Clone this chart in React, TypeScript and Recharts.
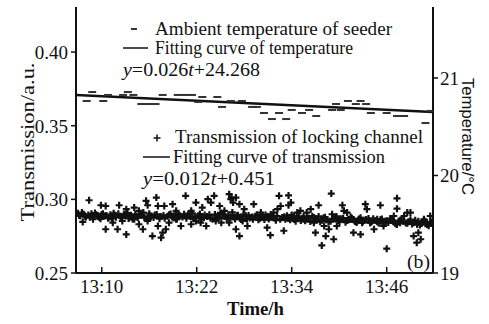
import React from 'react';
import { ComposedChart, Scatter, Line, XAxis, YAxis, Customized } from 'recharts';

// ---- data ----
const timeTicks = [10, 22, 34, 46]; // minutes after 13:00
const transTicks = [0.25, 0.3, 0.35, 0.4];
const tempTicks = [19, 20, 21];

const tempPoints: [number, number][] = [
  [8.1, 20.764], [8.8, 20.856], [10.2, 20.764], [10.8, 20.826], [12.7, 20.826], [13.3, 20.856],
  [14.0, 20.826], [15.0, 20.733], [15.9, 20.733], [16.8, 20.733], [17.7, 20.826], [19.6, 20.826],
  [20.5, 20.826], [21.4, 20.826], [22.2, 20.754], [22.7, 20.805], [24.6, 20.805], [25.2, 20.703],
  [26.3, 20.764], [27.7, 20.764], [29.0, 20.703], [29.6, 20.703], [30.5, 20.641], [31.5, 20.579],
  [32.4, 20.641], [33.3, 20.579], [34.0, 20.672], [35.3, 20.641], [36.2, 20.672], [37.1, 20.61],
  [39.1, 20.672], [39.6, 20.733], [40.2, 20.672], [41.1, 20.764], [42.1, 20.733], [42.7, 20.764],
  [43.4, 20.733], [44.0, 20.641], [46.0, 20.641], [47.3, 20.61], [48.2, 20.61], [50.9, 20.538],
  [51.6, 20.662],
];
const tempFit: [number, number][] = [[6.75, 20.826], [51.85, 20.65]];

const transOutliers: [number, number][] = [
  [8.4, 0.2994], [7.6, 0.2847], [8.9, 0.2865], [9.9, 0.296], [10.5, 0.2955], [10.5, 0.2797],
  [11.4, 0.2842], [12.2, 0.296], [13.1, 0.2933], [12.0, 0.2797], [13.1, 0.2762], [12.6, 0.2853],
  [14.1, 0.2944], [14.7, 0.2922], [15.6, 0.299], [15.8, 0.296], [14.1, 0.2865], [14.7, 0.2831],
  [15.2, 0.2797], [15.8, 0.2853], [16.4, 0.2751], [17.1, 0.2819], [17.5, 0.274], [17.7, 0.2774],
  [18.1, 0.2797], [16.9, 0.3012], [17.1, 0.2955], [17.9, 0.2955], [18.95, 0.2967], [19.4, 0.2922],
  [18.5, 0.2842], [19.4, 0.2865], [20.0, 0.2819], [20.6, 0.3024], [21.3, 0.2922], [21.9, 0.2978],
  [22.7, 0.2944], [23.4, 0.3001], [20.6, 0.2887], [21.3, 0.2831], [21.9, 0.2853], [22.5, 0.2842],
  [23.2, 0.2819], [23.8, 0.2978], [24.2, 0.3024], [24.9, 0.2955], [25.5, 0.2922], [26.1, 0.3035],
  [26.4, 0.3012], [26.3, 0.3001], [26.6, 0.2978], [26.95, 0.3012], [27.4, 0.2967], [28.0, 0.2933],
  [24.4, 0.2853], [25.1, 0.2842], [26.1, 0.2842], [26.95, 0.2797], [27.4, 0.2751], [27.8, 0.2853],
  [28.4, 0.2819], [29.1, 0.2865],
  [29.2, 0.2967], [30.1, 0.291], [30.9, 0.2808], [31.3, 0.2757], [31.7, 0.291], [32.4, 0.3024],
  [32.2, 0.2933], [32.6, 0.2955], [33.0, 0.2787], [33.2, 0.2865], [33.6, 0.3027], [33.9, 0.2978],
  [33.6, 0.296], [34.3, 0.2887], [34.7, 0.291], [35.1, 0.2922], [35.5, 0.2865], [35.9, 0.291],
  [36.4, 0.2933], [36.8, 0.2842], [37.0, 0.2774], [37.4, 0.296], [37.8, 0.2687], [38.1, 0.2819],
  [38.3, 0.2751], [38.7, 0.2797], [39.0, 0.3039], [39.1, 0.2899], [39.3, 0.2729], [39.7, 0.2819],
  [40.4, 0.296], [40.6, 0.2922], [41.0, 0.291], [41.4, 0.2865], [41.8, 0.2774], [42.3, 0.2853],
  [42.7, 0.2762], [43.3, 0.2967], [43.5, 0.2933], [43.9, 0.2842], [44.4, 0.2797], [44.8, 0.2865],
  [45.2, 0.296], [45.6, 0.2819], [46.0, 0.2665], [46.5, 0.2865], [46.9, 0.2887], [47.3, 0.3007],
  [47.3, 0.2937], [47.7, 0.2842], [48.2, 0.2887], [48.6, 0.291], [49.0, 0.291], [49.4, 0.2751],
  [49.8, 0.2706], [50.0, 0.2774], [50.3, 0.2729], [50.7, 0.2865], [51.1, 0.2842], [51.5, 0.2887],
  [51.8, 0.2853],
];

const transCore: [number, number][] = [
  [7.0, 0.2905], [7.3, 0.2888], [7.7, 0.2899], [8.0, 0.288], [8.3, 0.2893], [8.7, 0.2902],
  [9.0, 0.2884], [9.3, 0.2895], [9.7, 0.2876], [10.0, 0.2898], [10.3, 0.2886], [10.8, 0.2872],
  [11.1, 0.2896], [11.5, 0.2905], [11.8, 0.2879], [12.4, 0.2883], [12.8, 0.2899], [13.4, 0.287],
  [13.7, 0.2892], [14.4, 0.2886], [15.0, 0.2897], [15.4, 0.2875], [16.0, 0.2903], [16.2, 0.288],
  [16.7, 0.2894], [17.3, 0.2869], [17.8, 0.2891], [18.3, 0.2885], [18.7, 0.29], [19.1, 0.2874],
  [19.7, 0.2893], [20.2, 0.2881], [20.9, 0.2896], [21.6, 0.2868], [22.2, 0.2889], [22.9, 0.2877],
  [23.6, 0.2895], [24.0, 0.2865], [24.6, 0.2884], [25.3, 0.2899], [25.8, 0.287], [26.7, 0.2881],
  [27.2, 0.2892], [27.6, 0.2864], [28.2, 0.2888], [28.7, 0.2873], [29.4, 0.2885], [29.8, 0.2861],
  [30.4, 0.2879], [30.7, 0.2893], [31.1, 0.2866], [31.5, 0.2884], [32.0, 0.2858], [32.8, 0.2876],
  [33.4, 0.2889], [33.8, 0.2862], [34.1, 0.2871], [34.5, 0.2852], [34.9, 0.288], [35.3, 0.2869],
  [35.7, 0.2855], [36.1, 0.2874], [36.6, 0.2886], [37.2, 0.286], [37.6, 0.2848], [38.0, 0.2873],
  [38.5, 0.2864], [38.9, 0.2851], [39.5, 0.2876], [39.9, 0.2857], [40.2, 0.2869], [40.8, 0.2845],
  [41.2, 0.2861], [41.6, 0.2872], [42.0, 0.285], [42.5, 0.2866], [42.9, 0.2841], [43.1, 0.2858],
  [43.7, 0.287], [44.1, 0.2849], [44.6, 0.2856], [45.0, 0.2838], [45.4, 0.2866], [45.8, 0.2851],
  [46.2, 0.2843], [46.7, 0.286], [47.1, 0.2835], [47.5, 0.2852], [47.9, 0.2865], [48.4, 0.284],
  [48.8, 0.2848], [49.2, 0.2833], [49.6, 0.2858], [50.2, 0.2826], [50.5, 0.2844], [50.9, 0.2835],
  [51.3, 0.282], [51.7, 0.2841],
];

const transCoreExtra: [number, number][] = [
  [7.15, 0.2891], [7.5, 0.291], [7.9, 0.2886], [8.5, 0.2878], [9.15, 0.2907], [9.5, 0.2889],
  [9.85, 0.2868], [10.15, 0.2903], [10.6, 0.2891], [11.0, 0.288], [11.3, 0.2871], [11.65, 0.2893],
  [12.1, 0.2902], [12.5, 0.2874], [12.95, 0.2888], [13.25, 0.2906], [13.55, 0.2881], [13.9, 0.2866],
  [14.25, 0.2899], [14.55, 0.2876], [14.85, 0.2892], [15.25, 0.291], [15.7, 0.2868], [16.1, 0.2887],
  [16.55, 0.2876], [16.95, 0.2898], [17.45, 0.2884], [17.95, 0.2872], [18.5, 0.2895], [18.9, 0.288],
  [19.3, 0.2903], [19.5, 0.2866], [19.9, 0.2889], [20.4, 0.2899], [20.7, 0.2872], [21.1, 0.2885],
  [21.45, 0.2905], [21.8, 0.2879], [22.4, 0.29], [22.6, 0.2864], [23.0, 0.2893], [23.3, 0.2884],
  [23.75, 0.2871], [24.3, 0.2897], [24.8, 0.2878], [25.0, 0.2908], [25.6, 0.2886], [26.0, 0.2895],
  [26.25, 0.2874], [26.5, 0.2911], [26.85, 0.2866], [27.05, 0.2889], [27.5, 0.2879], [27.9, 0.2897],
  [28.35, 0.2867], [28.55, 0.2891], [29.0, 0.288], [29.6, 0.2895], [30.0, 0.2872], [30.25, 0.2889],
  [30.55, 0.2863], [30.95, 0.2884], [31.35, 0.2898], [31.85, 0.2871], [32.15, 0.2887], [32.55, 0.2865],
  [33.05, 0.2882], [33.55, 0.287], [34.0, 0.2894], [34.35, 0.2864], [34.75, 0.2878], [35.15, 0.2857],
  [35.5, 0.2885], [35.95, 0.2866], [36.35, 0.2849], [36.8, 0.2877], [37.05, 0.2868], [37.4, 0.2884],
  [37.85, 0.2858], [38.2, 0.2879], [38.65, 0.2846], [39.2, 0.2868], [39.65, 0.2884], [40.05, 0.285],
  [40.5, 0.2872], [41.0, 0.2856], [41.45, 0.288], [41.85, 0.2862], [42.2, 0.2843], [42.7, 0.2875],
  [43.0, 0.2852], [43.4, 0.2864], [43.95, 0.2842], [44.3, 0.2869], [44.8, 0.2848], [45.2, 0.2861],
  [45.6, 0.2835], [46.0, 0.2855], [46.45, 0.287], [46.9, 0.2846], [47.3, 0.283], [47.7, 0.2858],
  [48.1, 0.2849], [48.6, 0.2838], [49.0, 0.2862], [49.4, 0.2842], [49.85, 0.2829], [50.0, 0.2851],
  [50.4, 0.2836], [50.75, 0.2857], [51.1, 0.2829], [51.5, 0.2846],
];
const transFit: [number, number][] = [[6.75, 0.2896], [51.85, 0.2832]];

const toRows = (a: [number, number][]) => a.map(([t, v]) => ({ t, v }));
const tempRows = toRows(tempPoints);
const tempFitRows = toRows(tempFit);
const transRows = toRows([...transCore, ...transCoreExtra, ...transOutliers]);
const transFitRows = toRows(transFit);

// ---- styles ----
const SERIF = 'Liberation Serif, DejaVu Serif, serif';
const SANS = 'Liberation Sans, Arial, sans-serif';
const INK = '#111';

const DashShape = (p: any) => (
  <rect x={p.cx - 4} y={p.cy - 1} width={8} height={2} fill="#333" />
);
const PlusShape = (p: any) => (
  <path
    d={`M${p.cx - 3.5},${p.cy}H${p.cx + 3.5}M${p.cx},${p.cy - 3.5}V${p.cy + 3.5}`}
    stroke={INK}
    strokeWidth={2.2}
    fill="none"
  />
);

const XTick = (props: any) => {
  const { x, y, payload } = props;
  return (
    <g>
      <line x1={x} x2={x} y1={y} y2={y - 6} stroke={INK} strokeWidth={1.5} />
      <text x={x} y={y + 20} textAnchor="middle" style={{ fontFamily: SERIF, fontSize: 19 }} fill={INK}>
        {`13:${payload.value}`}
      </text>
    </g>
  );
};

const YTick = (props: any) => {
  const { x, y, payload, textAnchor, fmt } = props;
  return (
    <text x={x} y={y} dy="0.36em" textAnchor={textAnchor} style={{ fontFamily: SERIF, fontSize: 19 }} fill={INK}>
      {fmt(payload.value)}
    </text>
  );
};

const serif = (size: number, extra: any = {}) => ({ fontFamily: SERIF, fontSize: size, ...extra });

const Annotations = () => (
  <g fill={INK}>
    <rect x={131} y={28} width={6} height={2} fill="#333" />
    <text x={155} y={35} style={serif(19)} textLength={237} lengthAdjust="spacingAndGlyphs">
      Ambient temperature of seeder
    </text>
    <line x1={123} x2={148} y1={48} y2={48} stroke={INK} strokeWidth={1.5} />
    <text x={155} y={54} style={serif(19)} textLength={198} lengthAdjust="spacingAndGlyphs">
      Fitting curve of temperature
    </text>
    <text x={123} y={76} style={serif(19)} textLength={137} lengthAdjust="spacingAndGlyphs">
      <tspan fontStyle="italic">y</tspan>=0.026<tspan fontStyle="italic">t</tspan>+24.268
    </text>

    <path d="M153.5,138H160.5M157,134.5V141.5" stroke={INK} strokeWidth={1.5} />
    <text x={175} y={143} style={serif(19)} textLength={248} lengthAdjust="spacingAndGlyphs">
      Transmission of locking channel
    </text>
    <line x1={143} x2={170} y1={157} y2={157} stroke={INK} strokeWidth={1.5} />
    <text x={173} y={163} style={serif(19)} textLength={212} lengthAdjust="spacingAndGlyphs">
      Fitting curve of transmission
    </text>
    <text x={143} y={185} style={serif(19)} textLength={132} lengthAdjust="spacingAndGlyphs">
      <tspan fontStyle="italic">y</tspan>=0.012<tspan fontStyle="italic">t</tspan>+0.451
    </text>

    <text x={407} y={268} style={serif(18)} textLength={23} lengthAdjust="spacingAndGlyphs">(b)</text>

    <text
      x={27}
      y={142}
      style={serif(19)}
      textAnchor="middle"
      dominantBaseline="central"
      transform="rotate(-90 27 142)"
      textLength={159}
      lengthAdjust="spacingAndGlyphs"
    >
      Transmission/a.u.
    </text>
    <text x={255.5} y={315} style={serif(19, { fontWeight: 'bold' })} textAnchor="middle" textLength={57} lengthAdjust="spacingAndGlyphs">
      Time/h
    </text>
    <text
      x={467}
      y={136.5}
      style={{ fontFamily: SANS, fontSize: 16 }}
      textAnchor="middle"
      dominantBaseline="central"
      transform="rotate(90 467 136.5)"
      textLength={117}
      lengthAdjust="spacingAndGlyphs"
    >
      Temperature/°C
    </text>
  </g>
);

const axisLine = { stroke: INK, strokeWidth: 2 };
const fmt2 = (v: number) => v.toFixed(2);
const fmt0 = (v: number) => String(v);

export default function App() {
  return (
    <div style={{ position: 'absolute', left: 0, top: 0, width: 489, height: 324, background: '#fff' }}>
      <ComposedChart width={489} height={324} margin={{ top: 7, right: 0, bottom: 0, left: 0 }}>
        <XAxis
          xAxisId="b"
          type="number"
          dataKey="t"
          domain={[6.75, 51.85]}
          allowDataOverflow
          ticks={timeTicks}
          interval={0}
          height={51}
          axisLine={axisLine}
          tickLine={false}
          tickSize={0}
          tickMargin={0}
          tick={<XTick />}
        />
        <XAxis
          xAxisId="top"
          orientation="top"
          type="number"
          dataKey="t"
          domain={[6.75, 51.85]}
          allowDataOverflow
          height={0}
          tick={false}
          tickLine={false}
          axisLine={axisLine}
        />
        <YAxis
          yAxisId="l"
          dataKey="v"
          type="number"
          domain={[0.25, 0.4306]}
          allowDataOverflow
          ticks={transTicks}
          interval={0}
          width={76}
          tickSize={5}
          tickMargin={3}
          axisLine={axisLine}
          tickLine={{ stroke: INK, strokeWidth: 1.5 }}
          tick={<YTick fmt={fmt2} />}
        />
        <YAxis
          yAxisId="r"
          orientation="right"
          dataKey="v"
          type="number"
          domain={[19, 21.728]}
          allowDataOverflow
          ticks={tempTicks}
          interval={0}
          width={56}
          tickSize={5}
          tickMargin={2}
          axisLine={axisLine}
          tickLine={{ stroke: INK, strokeWidth: 1.5 }}
          tick={<YTick fmt={fmt0} />}
        />
        <Scatter
          data={tempRows}
          dataKey="v"
          xAxisId="b"
          yAxisId="r"
          shape={DashShape}
          isAnimationActive={false}
        />
        <Line
          data={tempFitRows}
          dataKey="v"
          xAxisId="b"
          yAxisId="r"
          dot={false}
          stroke={INK}
          strokeWidth={2.5}
          isAnimationActive={false}
        />
        <Scatter
          data={transRows}
          dataKey="v"
          xAxisId="b"
          yAxisId="l"
          shape={PlusShape}
          isAnimationActive={false}
        />
        <Line
          data={transFitRows}
          dataKey="v"
          xAxisId="b"
          yAxisId="l"
          dot={false}
          stroke={INK}
          strokeWidth={2}
          isAnimationActive={false}
        />
        <Customized component={Annotations} />
      </ComposedChart>
    </div>
  );
}
